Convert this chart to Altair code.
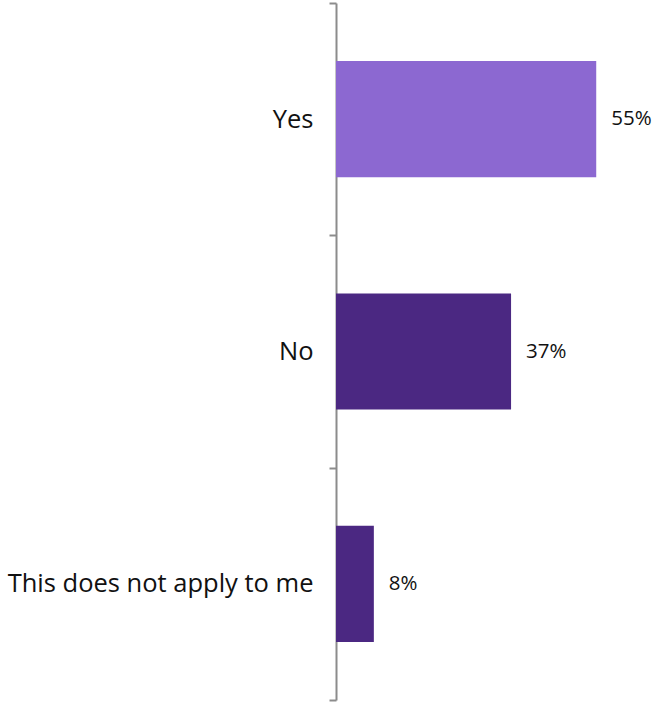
import altair as alt
import pandas as pd

categories = ["Yes", "No", "This does not apply to me"]
values = [55, 37, 8]
labels = ["55%", "37%", "8%"]
colors = ["#8C68D1", "#4B2882", "#4B2882"]

df = pd.DataFrame({"cat": categories, "val": values, "label": labels, "color": colors})

FONT = "Open Sans"

y = alt.Y(
    "cat:N",
    sort=categories,
    title=None,
    scale=alt.Scale(paddingInner=0, paddingOuter=0),
    axis=alt.Axis(
        tickBand="extent",
        domainColor="#8C8C8C",
        domainWidth=2,
        tickColor="#8C8C8C",
        tickWidth=2,
        tickSize=7,
        labelPadding=16,
        labelFont=FONT,
        labelFontSize=25.5,
        labelColor="#111111",
        labelLimit=400,
    ),
)
x = alt.X("val:Q", scale=alt.Scale(domain=[0, 67]), axis=None)

bars = alt.Chart(df).mark_bar(height={"band": 0.5}).encode(
    x=x, y=y, color=alt.Color("color:N", scale=None)
)
text = alt.Chart(df).mark_text(
    align="left", baseline="middle", dx=15, font=FONT, fontSize=20.5, color="#111111"
).encode(x=x, y=alt.Y("cat:N", sort=categories), text="label:N")

chart = (
    alt.layer(bars, text)
    .properties(
        width=317,
        height=697,
        autosize=alt.AutoSizeParams(type="none"),
        padding={"left": 336, "top": 3, "right": 0, "bottom": 2},
    )
    .configure_view(stroke=None)
)

chart.save("out.html", embed_options={"renderer": "svg", "actions": False})
